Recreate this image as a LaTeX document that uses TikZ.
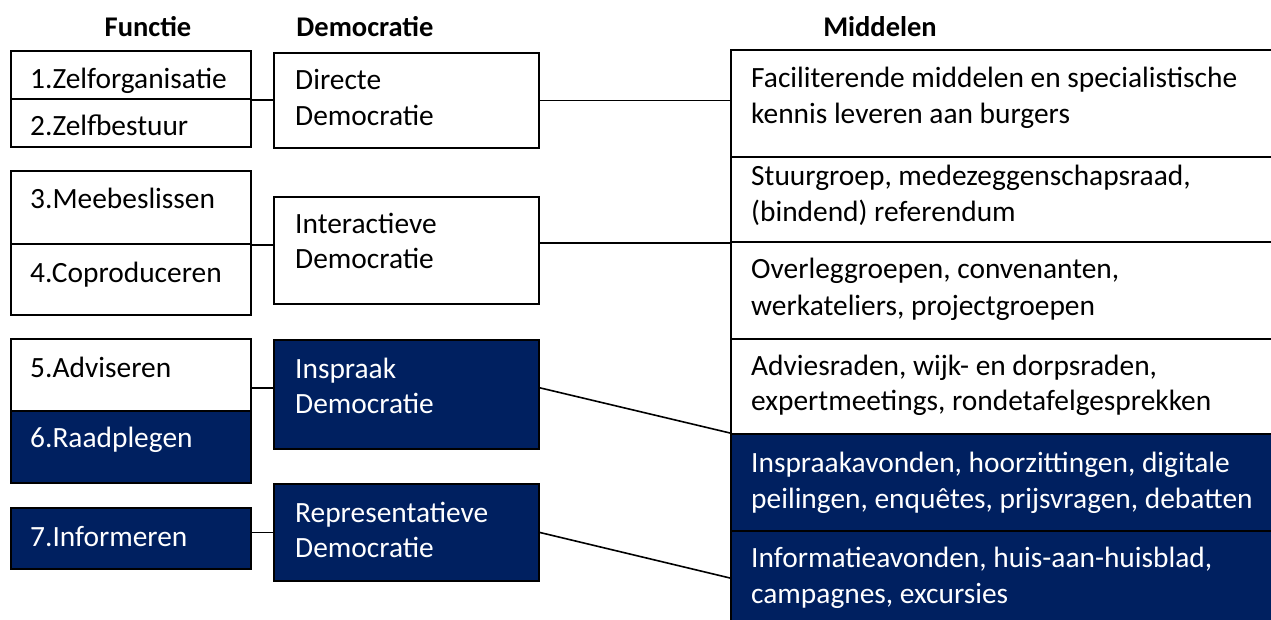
\documentclass[tikz,border=0pt]{standalone}
\usepackage{fontspec}
\setmainfont{Carlito}
\usetikzlibrary{calc}
\definecolor{navy}{RGB}{0,32,96}
\begin{document}
\begin{tikzpicture}[x=1pt,y=-1pt,
  box/.style={draw=black,line width=2pt,inner sep=0pt,anchor=north west,fill=white},
  dark/.style={box,fill=navy},
  txt/.style={anchor=base west,inner sep=0pt,font=\fontsize{29.4}{35}\selectfont},
  wtxt/.style={txt,text=white},
  head/.style={anchor=base,inner sep=0pt,font=\fontsize{28.5}{35}\selectfont\bfseries},
  link/.style={draw=black,line width=1.6pt}]
\clip (0,0) rectangle (1271,619);
\fill[white] (0,0) rectangle (1271,619);

% column headings
\node[head] (hF) at (148,36) {Functie};
\node[head] (hD) at (365,36) {Democratie};
\node[head] (hM) at (880,36) {Middelen};

% Functie column
\node[box,minimum width=240pt,minimum height=48pt] (f1) at (10,50) {};
\node[box,minimum width=240pt,minimum height=48pt] (f2) at (10,98) {};
\node[box,minimum width=240pt,minimum height=73pt] (f3) at (10,170) {};
\node[box,minimum width=240pt,minimum height=71pt] (f4) at (10,243) {};
\node[box,minimum width=240pt,minimum height=72pt] (f5) at (10,338) {};
\node[dark,minimum width=240pt,minimum height=72pt] (f6) at (10,410) {};
\node[dark,minimum width=240pt,minimum height=61pt] (f7) at (10,507) {};

\node[txt] (t1) at (30,88) {1.Zelforganisatie};
\node[txt] (t2) at (30,135) {2.Zelfbestuur};
\node[txt] (t3) at (30,208) {3.Meebeslissen};
\node[txt] (t4) at (30,282) {4.Coproduceren};
\node[txt] (t5) at (30,377) {5.Adviseren};
\node[wtxt] (t6) at (30,447) {6.Raadplegen};
\node[wtxt] (t7) at (30,546) {7.Informeren};

% Democratie column
\node[box,minimum width=265pt,minimum height=95pt] (dd) at (273,52) {};
\node[box,minimum width=265pt,minimum height=107pt] (id) at (273,196) {};
\node[dark,minimum width=265pt,minimum height=109pt] (ip) at (273,339) {};
\node[dark,minimum width=265pt,minimum height=97pt] (rd) at (273,483) {};

\node[txt] (dd1) at (295,89) {Directe};
\node[txt] (dd2) at (295,125) {Democratie};
\node[txt] (id1) at (295,233) {Interactieve};
\node[txt] (id2) at (295,268) {Democratie};
\node[wtxt] (ip1) at (295,378) {Inspraak};
\node[wtxt] (ip2) at (295,413) {Democratie};
\node[wtxt] (rd1) at (295,522) {Representatieve};
\node[wtxt] (rd2) at (295,557) {Democratie};

% Middelen column
\node[box,minimum width=560pt,minimum height=107pt] (m1) at (730,49) {};
\node[box,minimum width=560pt,minimum height=85pt] (m2) at (730,156) {};
\node[box,minimum width=560pt,minimum height=97pt] (m3) at (730,241) {};
\node[box,minimum width=560pt,minimum height=95pt] (m4) at (730,338) {};
\node[dark,minimum width=560pt,minimum height=97pt] (m5) at (730,433) {};
\node[dark,minimum width=560pt,minimum height=94pt] (m6) at (730,530) {};

\node[txt] (m1a) at (751,87) {Faciliterende middelen en specialistische};
\node[txt] (m1b) at (751,123) {kennis leveren aan burgers};
\node[txt] (m2a) at (751,185) {Stuurgroep, medezeggenschapsraad,};
\node[txt] (m2b) at (751,221) {(bindend) referendum};
\node[txt] (m3a) at (751,278) {Overleggroepen, convenanten,};
\node[txt] (m3b) at (751,315) {werkateliers, projectgroepen};
\node[txt] (m4a) at (751,375) {Adviesraden, wijk- en dorpsraden,};
\node[txt] (m4b) at (751,410) {expertmeetings, rondetafelgesprekken};
\node[wtxt] (m5a) at (751,472) {Inspraakavonden, hoorzittingen, digitale};
\node[wtxt] (m5b) at (751,508) {peilingen, enquêtes, prijsvragen, debatten};
\node[wtxt] (m6a) at (751,567) {Informatieavonden, huis-aan-huisblad,};
\node[wtxt] (m6b) at (751,603) {campagnes, excursies};

% connectors
\draw[link] (f1.south east) -- (f1.south east -| dd.west);
\draw[link] (dd.east) -- (dd.east -| m1.west);
\draw[link] (f3.south east) -- (f3.south east -| id.west);
\draw[link] (id.east |- m2.south west) -- (m2.south west);
\coordinate (ipk) at ($(ip.north west)!0.44!(ip.south west)$);
\draw[link] (ipk -| f5.east) -- (ipk);
\draw[link] (ipk -| ip.east) -- (m5.north west);
\draw[link] (rd.west -| f7.east) -- (rd.west);
\draw[link] (rd.east) -- (m6.west);
\end{tikzpicture}
\end{document}
